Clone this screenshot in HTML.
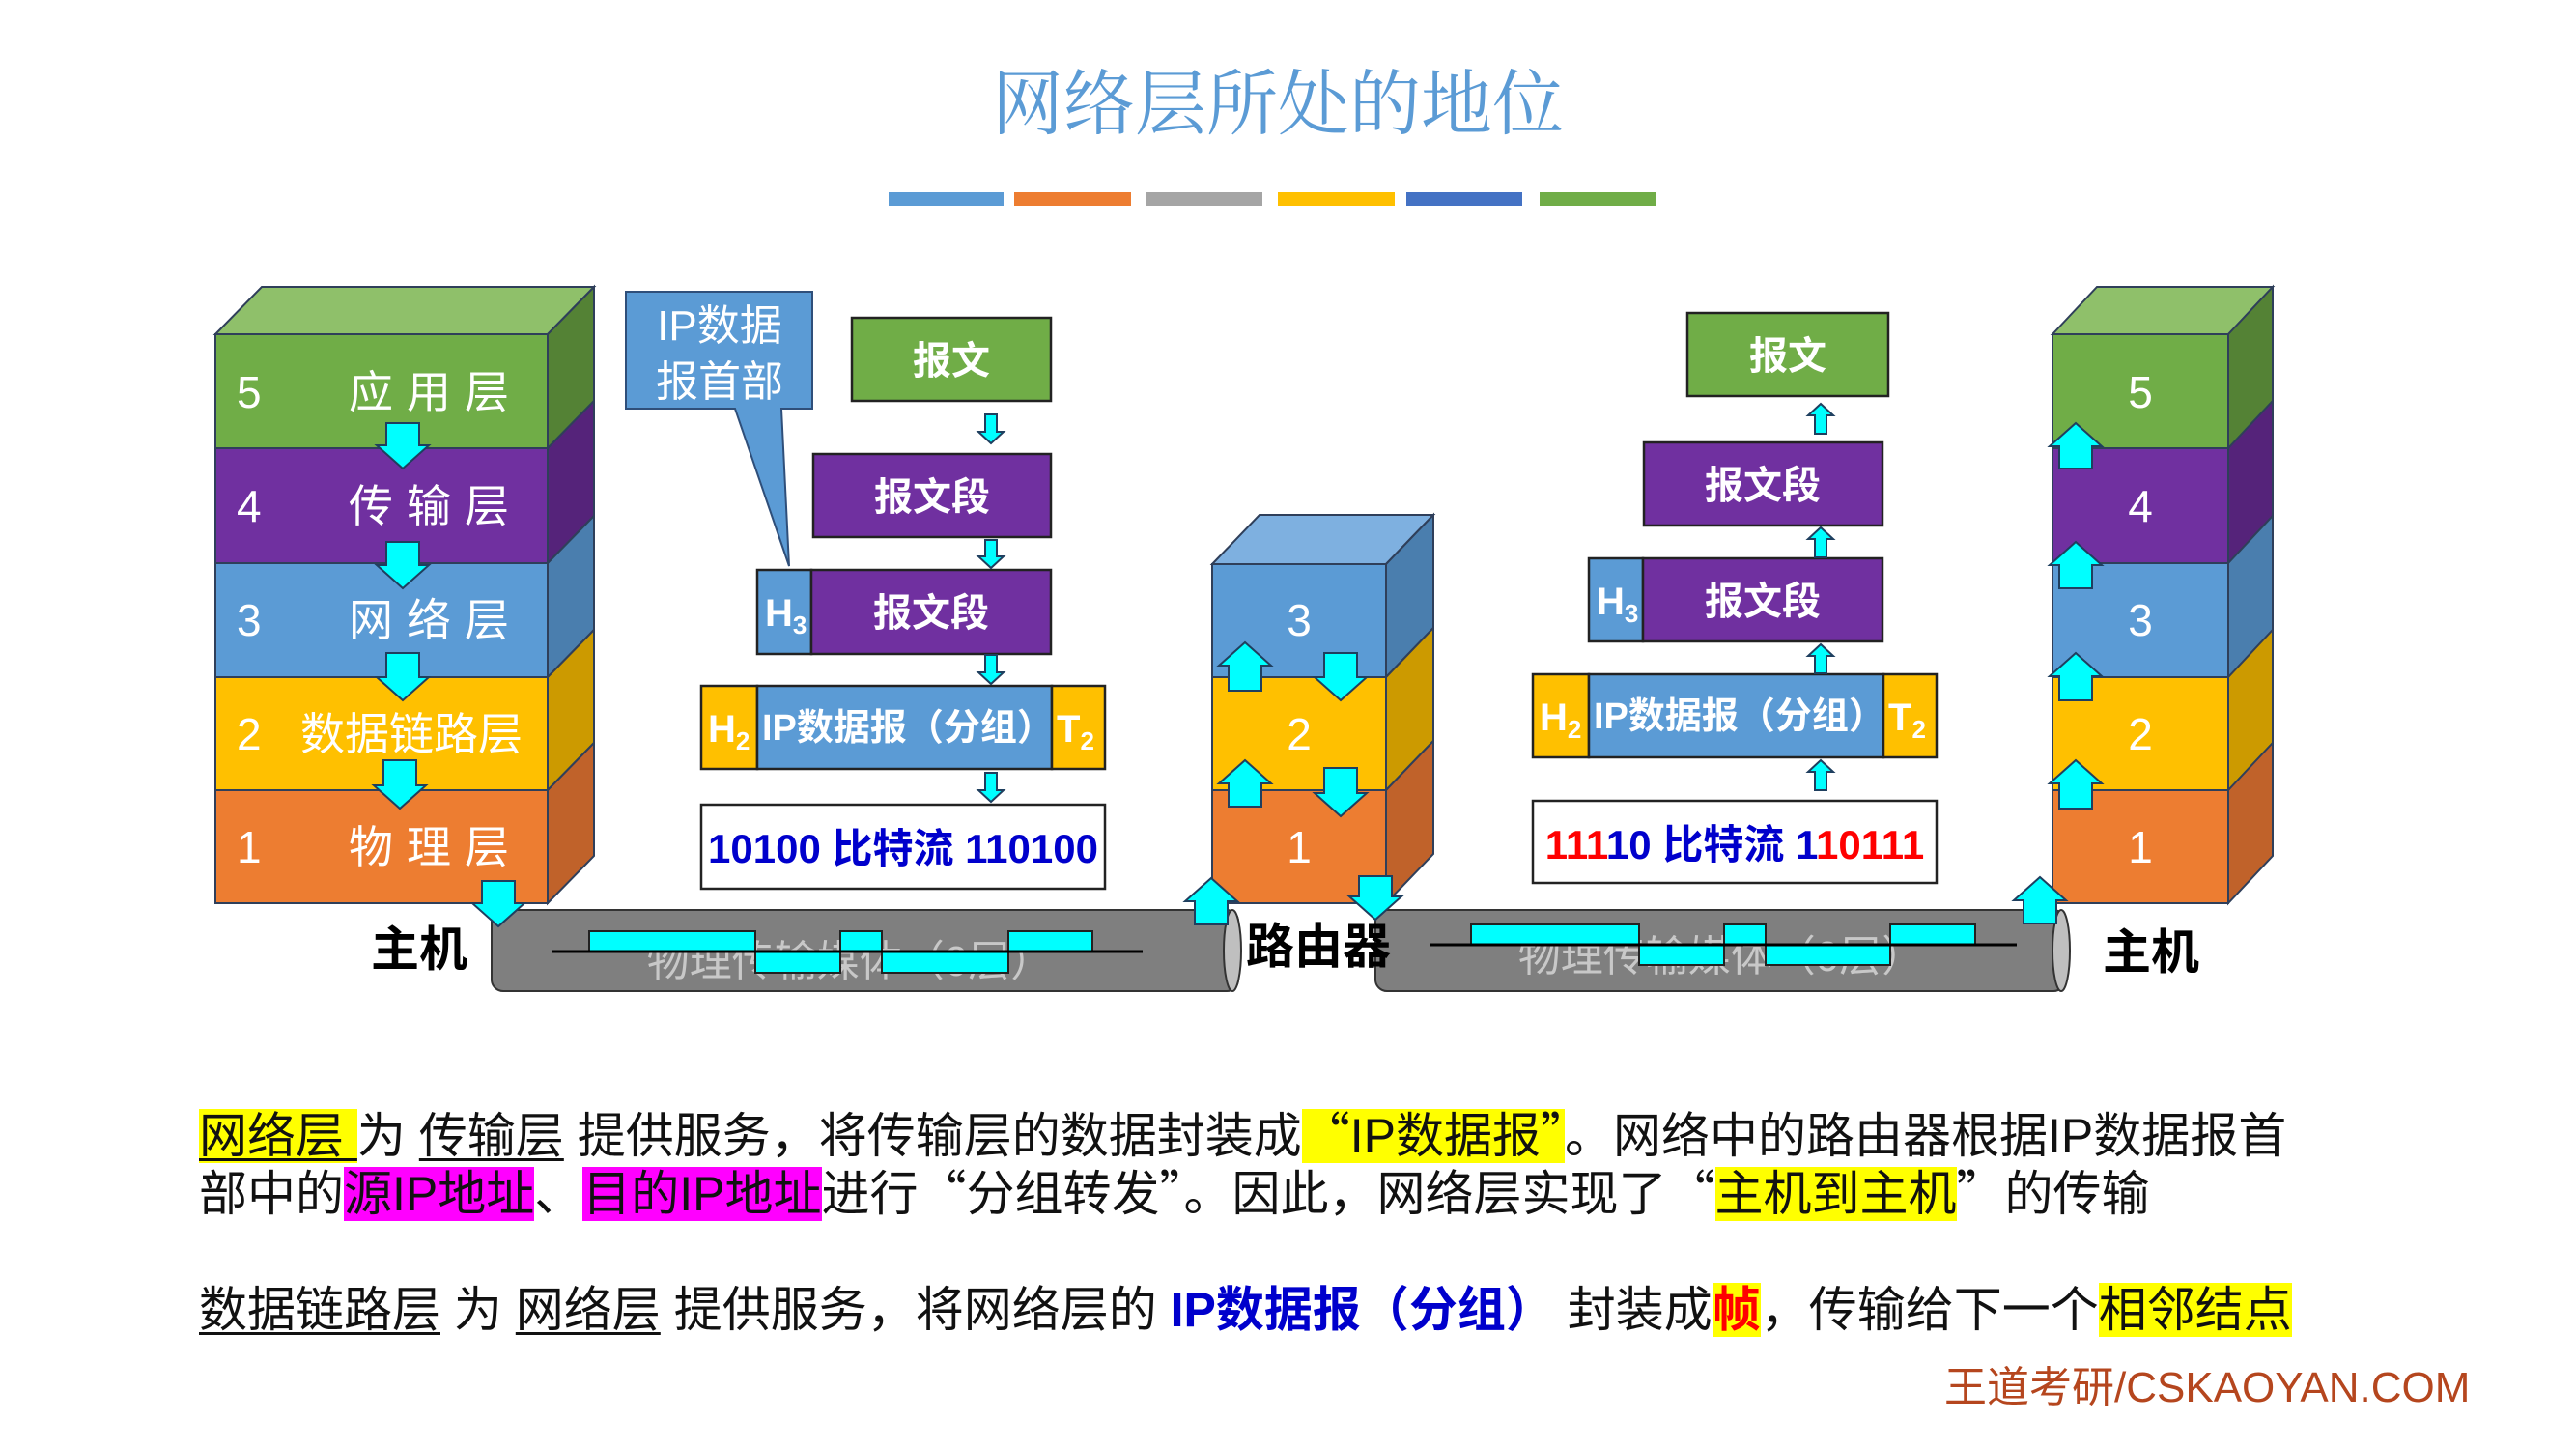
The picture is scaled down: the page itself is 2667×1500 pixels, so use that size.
<!DOCTYPE html>
<html><head><meta charset="utf-8">
<style>
html,body{margin:0;padding:0;background:#fff;}
body{width:2667px;height:1500px;position:relative;overflow:hidden;font-family:"Liberation Sans","Noto Sans CJK SC",sans-serif;}
.ln{position:absolute;left:206px;font-size:50px;white-space:nowrap;color:#111;line-height:62px;height:62px;}
.y{background:#ffff00;}
.m{background:#ff00ff;}
.u{text-decoration:underline;text-decoration-thickness:3px;text-underline-offset:6px;}
.b{color:#0000cc;font-weight:bold;}
.q{font-family:"Noto Sans CJK SC",sans-serif;}
</style></head><body>
<svg width="2667" height="1500" style="position:absolute;left:0;top:0" xmlns="http://www.w3.org/2000/svg" font-family="Liberation Sans, Noto Sans CJK SC, sans-serif">
<text x="1323" y="133" font-size="74" fill="#5b9bd5" text-anchor="middle" font-family="Liberation Serif, Noto Serif CJK SC, serif">网络层所处的地位</text>
<rect x="920" y="199" width="119" height="14" fill="#5b9bd5"/>
<rect x="1050" y="199" width="121" height="14" fill="#ed7d31"/>
<rect x="1186" y="199" width="121" height="14" fill="#a5a5a5"/>
<rect x="1323" y="199" width="121" height="14" fill="#ffc000"/>
<rect x="1456" y="199" width="120" height="14" fill="#4472c4"/>
<rect x="1594" y="199" width="120" height="14" fill="#70ad47"/>

<g stroke="#2f3f5a" stroke-width="2">
<polygon points="223,346 271,297 615,297 567,346" fill="#8fc06a"/>
<rect x="223" y="346" width="344" height="118" fill="#70ad47"/>
<polygon points="567,346 615,297 615,415 567,464" fill="#548235"/>
<rect x="223" y="464" width="344" height="119" fill="#7030a0"/>
<polygon points="567,464 615,415 615,534 567,583" fill="#55237a"/>
<rect x="223" y="583" width="344" height="118" fill="#5b9bd5"/>
<polygon points="567,583 615,534 615,652 567,701" fill="#4a7eae"/>
<rect x="223" y="701" width="344" height="117" fill="#ffc000"/>
<polygon points="567,701 615,652 615,769 567,818" fill="#cc9a00"/>
<rect x="223" y="818" width="344" height="117" fill="#ed7d31"/>
<polygon points="567,818 615,769 615,886 567,935" fill="#c0622a"/>
<g transform="translate(-9,0)">
<polygon points="1264,584 1313,533 1493,533 1444,584" fill="#7eb0e0"/>
<rect x="1264" y="584" width="180" height="117" fill="#5b9bd5"/>
<polygon points="1444,584 1493,533 1493,650 1444,701" fill="#4a7eae"/>
<rect x="1264" y="701" width="180" height="117" fill="#ffc000"/>
<polygon points="1444,701 1493,650 1493,767 1444,818" fill="#cc9a00"/>
<rect x="1264" y="818" width="180" height="117" fill="#ed7d31"/>
<polygon points="1444,818 1493,767 1493,884 1444,935" fill="#c0622a"/>
</g>
<g transform="translate(-16,0)">
<polygon points="2141,346 2187,297 2369,297 2323,346" fill="#8fc06a"/>
<rect x="2141" y="346" width="182" height="118" fill="#70ad47"/>
<polygon points="2323,346 2369,297 2369,415 2323,464" fill="#548235"/>
<rect x="2141" y="464" width="182" height="119" fill="#7030a0"/>
<polygon points="2323,464 2369,415 2369,534 2323,583" fill="#55237a"/>
<rect x="2141" y="583" width="182" height="118" fill="#5b9bd5"/>
<polygon points="2323,583 2369,534 2369,652 2323,701" fill="#4a7eae"/>
<rect x="2141" y="701" width="182" height="117" fill="#ffc000"/>
<polygon points="2323,701 2369,652 2369,769 2323,818" fill="#cc9a00"/>
<rect x="2141" y="818" width="182" height="117" fill="#ed7d31"/>
<polygon points="2323,818 2369,769 2369,886 2323,935" fill="#c0622a"/>
</g>
</g>

<g fill="#fff" font-size="46">
<text x="245" y="422">5</text><text x="541" y="422" text-anchor="end" letter-spacing="14">应用层</text>
<text x="245" y="540">4</text><text x="541" y="540" text-anchor="end" letter-spacing="14">传输层</text>
<text x="245" y="658">3</text><text x="541" y="658" text-anchor="end" letter-spacing="14">网络层</text>
<text x="245" y="776">2</text><text x="541" y="776" text-anchor="end">数据链路层</text>
<text x="245" y="893">1</text><text x="541" y="893" text-anchor="end" letter-spacing="14">物理层</text>
<g text-anchor="middle">
<text x="1345" y="658">3</text><text x="1345" y="776">2</text><text x="1345" y="893">1</text>
<text x="2216" y="422">5</text><text x="2216" y="540">4</text><text x="2216" y="658">3</text><text x="2216" y="776">2</text><text x="2216" y="893">1</text>
</g></g>

<path d="M648,302 L841,302 L841,423 L809,423 L817,586 L761,423 L648,423 Z" fill="#5b9bd5" stroke="#2f4f7a" stroke-width="2"/>
<text x="745" y="352" fill="#fff" font-size="44" text-anchor="middle">IP数据</text>
<text x="745" y="410" fill="#fff" font-size="44" text-anchor="middle">报首部</text>

<g stroke="#222" stroke-width="2.5">
<rect x="882" y="329" width="206" height="86" fill="#70ad47"/>
<rect x="842" y="470" width="246" height="86" fill="#7030a0"/>
<rect x="784" y="590" width="56" height="87" fill="#5b9bd5"/>
<rect x="840" y="590" width="248" height="87" fill="#7030a0"/>
<rect x="726" y="710" width="58" height="86" fill="#ffc000"/>
<rect x="784" y="710" width="305" height="86" fill="#5b9bd5"/>
<rect x="1089" y="710" width="55" height="86" fill="#ffc000"/>
<rect x="726" y="833" width="418" height="87" fill="#fff"/>
<g transform="translate(-5,0)">
<rect x="1752" y="324" width="208" height="86" fill="#70ad47"/>
<rect x="1707" y="458" width="247" height="86" fill="#7030a0"/>
<rect x="1650" y="578" width="56" height="86" fill="#5b9bd5"/>
<rect x="1706" y="578" width="248" height="86" fill="#7030a0"/>
<rect x="1592" y="698" width="58" height="86" fill="#ffc000"/>
<rect x="1650" y="698" width="305" height="86" fill="#5b9bd5"/>
<rect x="1955" y="698" width="55" height="86" fill="#ffc000"/>
<rect x="1592" y="829" width="418" height="85" fill="#fff"/>
</g>
</g>
<g fill="#fff" font-weight="bold" font-size="40" text-anchor="middle">
<text x="985" y="387">报文</text>
<text x="965" y="528">报文段</text>
<text x="964" y="648">报文段</text>
<text x="1851" y="382">报文</text>
<text x="1825" y="516">报文段</text>
<text x="1825" y="636">报文段</text>
</g>
<g fill="#fff" font-weight="bold" font-size="40">
<text x="792" y="648">H<tspan font-size="26" dy="8">3</tspan></text>
<text x="733" y="768">H<tspan font-size="26" dy="8">2</tspan></text>
<text x="789" y="766" font-size="38">IP数据报（分组）</text>
<text x="1094" y="768">T<tspan font-size="26" dy="8">2</tspan></text>
<text x="1653" y="636">H<tspan font-size="26" dy="8">3</tspan></text>
<text x="1594" y="756">H<tspan font-size="26" dy="8">2</tspan></text>
<text x="1650" y="754" font-size="38">IP数据报（分组）</text>
<text x="1955" y="756">T<tspan font-size="26" dy="8">2</tspan></text>
</g>
<text x="935" y="893" font-size="42" font-weight="bold" fill="#0000cc" text-anchor="middle">10100 比特流 110100</text>
<text x="1796" y="889" font-size="42" font-weight="bold" fill="#0000cc" text-anchor="middle"><tspan fill="#ff0000">111</tspan>10 比特流 1<tspan fill="#ff0000">10111</tspan></text>

<g stroke="#333" stroke-width="2">
<rect x="509" y="942" width="773" height="84" rx="12" fill="#7f7f7f"/>
<ellipse cx="1276" cy="984" rx="9" ry="42" fill="#bfbfbf"/>
<rect x="1424" y="942" width="714" height="84" rx="12" fill="#7f7f7f"/>
<ellipse cx="2134" cy="984" rx="9" ry="42" fill="#bfbfbf"/>
</g>
<text x="880" y="1010" font-size="44" fill="#c8c8c8" text-anchor="middle">物理传输媒体（0层）</text>
<text x="1782" y="1005" font-size="44" fill="#c8c8c8" text-anchor="middle">物理传输媒体（0层）</text>
<g fill="#00ffff" stroke="#222" stroke-width="2">
<rect x="610" y="964" width="172" height="21"/><rect x="782" y="985" width="88" height="22"/>
<rect x="870" y="964" width="43" height="21"/><rect x="913" y="985" width="131" height="22"/>
<rect x="1044" y="964" width="87" height="21"/>
<rect x="1523" y="957" width="174" height="21"/><rect x="1697" y="978" width="88" height="21"/>
<rect x="1785" y="957" width="43" height="21"/><rect x="1828" y="978" width="129" height="21"/>
<rect x="1957" y="957" width="88" height="21"/>
</g>
<line x1="571" y1="985" x2="1183" y2="985" stroke="#000" stroke-width="3"/>
<line x1="1481" y1="978" x2="2088" y2="978" stroke="#000" stroke-width="3"/>

<g font-size="50" font-weight="bold" fill="#000">
<text x="384" y="1000">主机</text>
<text x="1290" y="997">路由器</text>
<text x="2177" y="1003">主机</text>
</g>

<g fill="#00ffff" stroke="#1f3f5f" stroke-width="2">
<path d="M400,438 L434,438 L434,461 L444,461 L417,485 L390,461 L400,461 Z"/>
<path d="M400,561 L434,561 L434,585 L444,585 L417,609 L390,585 L400,585 Z"/>
<path d="M400,676 L434,676 L434,701 L444,701 L417,725 L390,701 L400,701 Z"/>
<path d="M397,787 L431,787 L431,813 L441,813 L414,837 L387,813 L397,813 Z"/>
<path d="M499,912 L533,912 L533,935 L543,935 L516,959 L489,935 L499,935 Z"/>
<path d="M1020,429 L1032,429 L1032,447 L1039,447 L1026,459 L1013,447 L1020,447 Z"/>
<path d="M1020,559 L1032,559 L1032,576 L1039,576 L1026,588 L1013,576 L1020,576 Z"/>
<path d="M1020,678 L1032,678 L1032,696 L1039,696 L1026,708 L1013,696 L1020,696 Z"/>
<path d="M1020,800 L1032,800 L1032,818 L1039,818 L1026,830 L1013,818 L1020,818 Z"/>
<g transform="translate(-5,0)">
<path d="M1884,449 L1896,449 L1896,430 L1903,430 L1890,418 L1877,430 L1884,430 Z"/>
<path d="M1884,577 L1896,577 L1896,558 L1903,558 L1890,546 L1877,558 L1884,558 Z"/>
<path d="M1884,697 L1896,697 L1896,679 L1903,679 L1890,667 L1877,679 L1884,679 Z"/>
<path d="M1884,818 L1896,818 L1896,799 L1903,799 L1890,787 L1877,799 L1884,799 Z"/>
</g>
<g transform="translate(-9,0)">
<path d="M1281,715 L1315,715 L1315,689 L1325,689 L1298,665 L1271,689 L1281,689 Z"/>
<path d="M1281,835 L1315,835 L1315,811 L1325,811 L1298,787 L1271,811 L1281,811 Z"/>
<path d="M1380,676 L1414,676 L1414,701 L1424,701 L1397,725 L1370,701 L1380,701 Z"/>
<path d="M1380,795 L1414,795 L1414,821 L1424,821 L1397,845 L1370,821 L1380,821 Z"/>
<path d="M1246,957 L1280,957 L1280,933 L1290,933 L1263,909 L1236,933 L1246,933 Z"/>
<path d="M1416,907 L1450,907 L1450,928 L1460,928 L1433,952 L1406,928 L1416,928 Z"/>
</g>
<g transform="translate(-16,0)">
<path d="M2148,485 L2182,485 L2182,462 L2192,462 L2165,438 L2138,462 L2148,462 Z"/>
<path d="M2148,609 L2182,609 L2182,585 L2192,585 L2165,561 L2138,585 L2148,585 Z"/>
<path d="M2148,725 L2182,725 L2182,700 L2192,700 L2165,676 L2138,700 L2148,700 Z"/>
<path d="M2148,837 L2182,837 L2182,811 L2192,811 L2165,787 L2138,811 L2148,811 Z"/>
<path d="M2111,956 L2145,956 L2145,932 L2155,932 L2128,908 L2101,932 L2111,932 Z"/>
</g>
</g>
</svg>

<div class="ln" style="top:1141px;"><span class="y u">网络层 </span>为 <span class="u">传输层</span> 提供服务，将传输层的数据封装成<span class="y"><span class="q">“</span>IP数据报<span class="q">”</span></span>。网络中的路由器根据IP数据报首</div>
<div class="ln" style="top:1201px;">部中的<span class="m">源IP地址</span>、<span class="m">目的IP地址</span>进行<span class="q">“</span>分组转发<span class="q">”</span>。因此，网络层实现了<span class="q">“</span><span class="y">主机到主机</span><span class="q">”</span>的传输</div>
<div class="ln" style="top:1325px;"><span class="u">数据链路层</span> 为 <span class="u">网络层</span> 提供服务，将网络层的 <span class="b">IP数据报（分组）</span> 封装成<span class="y" style="color:#ff0000;font-weight:bold">帧</span>，传输给下一个<span class="y">相邻结点</span></div>
<div style="position:absolute;left:2013px;top:1400px;font-size:44px;color:#b5461e;white-space:nowrap;">王道考研/CSKAOYAN.COM</div>
</body></html>
